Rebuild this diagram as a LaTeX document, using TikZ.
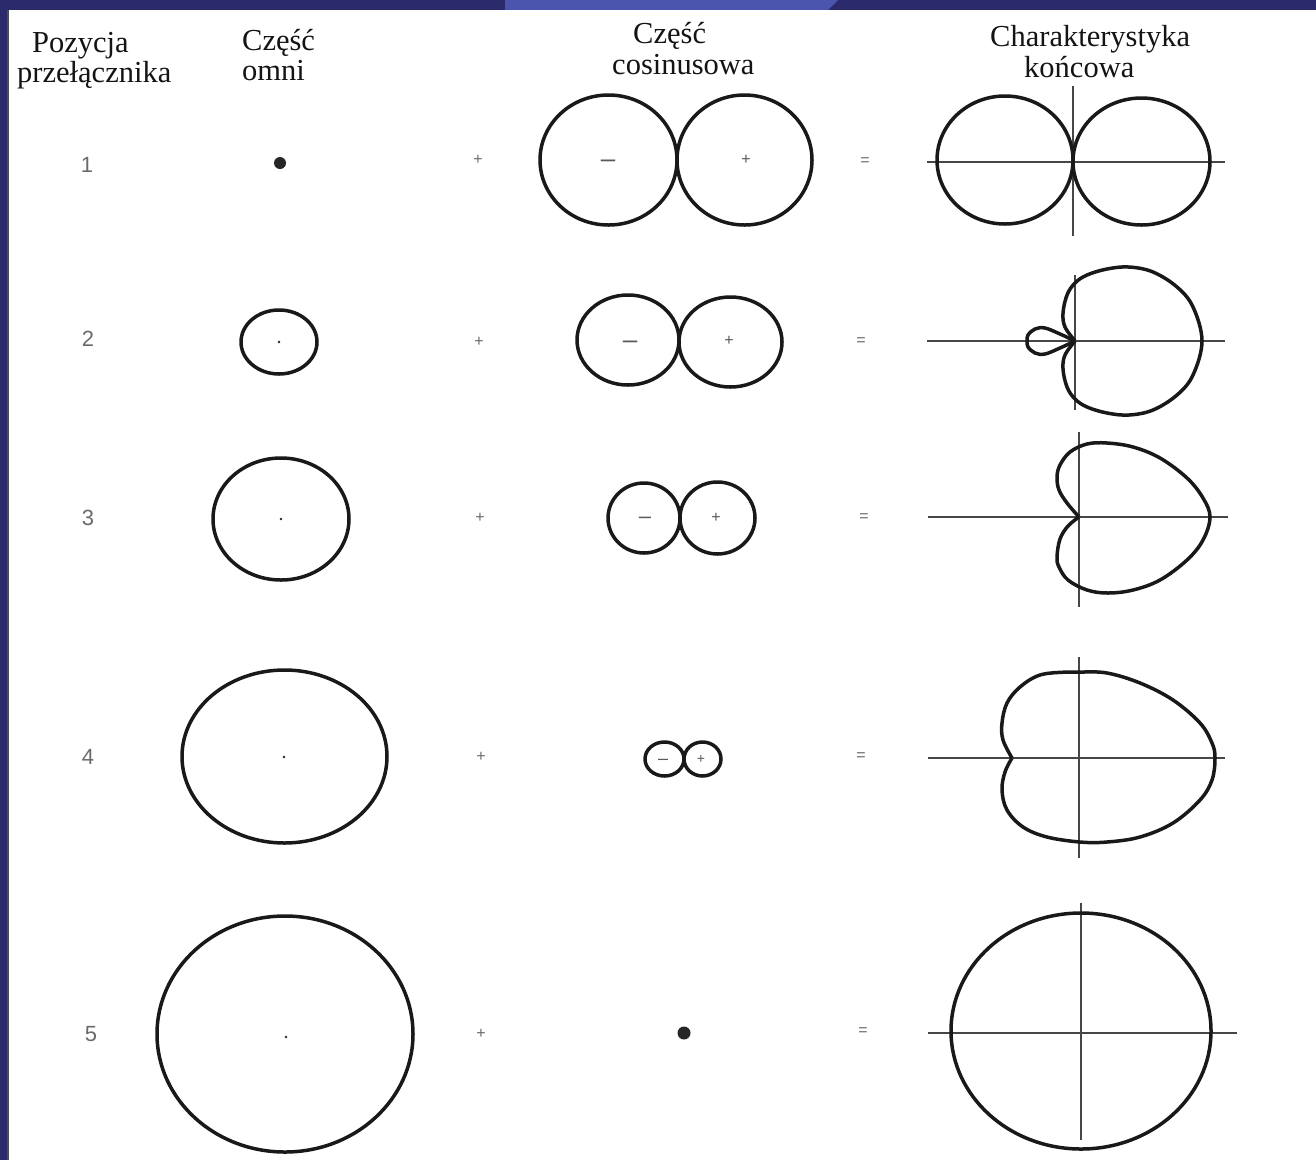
\documentclass[tikz,border=0pt]{standalone}
\usepackage{fontspec}
\setmainfont{Liberation Serif}
\newfontfamily\numfont{Liberation Sans}
\definecolor{navy}{HTML}{2B2A6B}
\definecolor{lightnavy}{HTML}{4B55AD}
\begin{document}
\begin{tikzpicture}[x=1pt,y=-1pt,
  lobe/.style={line width=3.5pt, black!90, line join=round},
  axisline/.style={line width=1.4pt, black!72},
  hdr/.style={font=\fontsize{30.5}{32}\selectfont, text=black!92, inner sep=0pt, anchor=base west},
  num/.style={font=\numfont\fontsize{22}{24}\selectfont, text=black!58, inner sep=0pt},
  op/.style={font=\numfont\fontsize{16}{18}\selectfont, text=black!58, inner sep=0pt},
  minus/.style={font=\numfont\fontsize{#1}{#1}\selectfont, text=black!65, inner sep=0pt, anchor=base},
  plussign/.style={font=\numfont\fontsize{#1}{#1}\selectfont, text=black!65, inner sep=0pt},
  dotc/.style={fill=black!85}
]
\useasboundingbox (0,0) rectangle (1316,1160);
% background
\fill[navy] (0,0) rectangle (1316,1160);
\fill[lightnavy] (505,0) -- (838,0) -- (828,10) -- (505,10) -- cycle;
\fill[white] (8,10) rectangle (1316,1160);
\draw[black!70, line width=1.2pt] (8,10) -- (8,1160);

% headers
\node[hdr] (h1a) at (32,52) {Pozycja};
\node[hdr] (h1b) at (17,82) {przełącznika};
\node[hdr] (h2a) at (242,50) {Część};
\node[hdr] (h2b) at (242,80) {omni};
\node[hdr] (h3a) at (633,43) {Część};
\node[hdr] (h3b) at (612,74) {cosinusowa};
\node[hdr] (h4a) at (990,46) {Charakterystyka};
\node[hdr] (h4b) at (1024,77) {końcowa};

% row numbers
\node[num] (n1) at (87,165) {1};
\node[num] (n2) at (88,339) {2};
\node[num] (n3) at (88,518) {3};
\node[num] (n4) at (88,757) {4};
\node[num] (n5) at (91,1034) {5};

% plus and equal signs
\node[op] (p1) at (478,160) {+};
\node[op] (p2) at (479,342) {+};
\node[op] (p3) at (480,518) {+};
\node[op] (p4) at (481,757) {+};
\node[op] (p5) at (481,1034) {+};
\node[op] (e1) at (865,162) {=};
\node[op] (e2) at (861,342) {=};
\node[op] (e3) at (864,518) {=};
\node[op] (e4) at (861,757) {=};
\node[op] (e5) at (863,1032) {=};

% omni part
\fill[dotc] (280,163) circle (6);
\draw[lobe] (279,342) ellipse [x radius=38, y radius=32];
\fill[dotc] (279,342) circle (1.4);
\draw[lobe] (281,519) ellipse [x radius=68, y radius=61];
\fill[dotc] (281,519) circle (1.4);
\draw[lobe] (284.5,756.5) ellipse [x radius=102.5, y radius=86.5];
\fill[dotc] (284,757) circle (1.4);
\draw[lobe] (285,1034) ellipse [x radius=128, y radius=118];
\fill[dotc] (286,1037) circle (1.4);

% cosine part
\draw[lobe] (608.5,160) ellipse [x radius=68.5, y radius=65];
\draw[lobe] (744.5,160) ellipse [x radius=67.5, y radius=65];
\node[minus=26] (m1) at (608,167) {–};
\node[plussign=16] (q1) at (746,160) {+};

\draw[lobe] (628,340) ellipse [x radius=51, y radius=45];
\draw[lobe] (730.5,342) ellipse [x radius=51.5, y radius=45];
\node[minus=26] (m2) at (630,348) {–};
\node[plussign=16] (q2) at (729,341) {+};

\draw[lobe] (644,518) ellipse [x radius=36, y radius=35];
\draw[lobe] (717.5,518) ellipse [x radius=37.5, y radius=36];
\node[minus=22] (m3) at (645,523) {–};
\node[plussign=16] (q3) at (716,518) {+};

\draw[lobe] (664.5,759) ellipse [x radius=19.5, y radius=17];
\draw[lobe] (702.5,759) ellipse [x radius=18.5, y radius=17];
\node[minus=18] (m4) at (663,764) {–};
\node[plussign=14] (q4) at (701,759) {+};

\fill[dotc] (684,1033) circle (6.5);

% final characteristics
% row 1
\draw[axisline] (927,162) -- (1225,162);
\draw[axisline] (1073,86) -- (1073,236);
\draw[lobe] (1005,160) ellipse [x radius=68, y radius=64];
\draw[lobe] (1141.5,161.5) ellipse [x radius=68.5, y radius=63.5];

% row 2
\draw[axisline] (927,341) -- (1225,341);
\draw[axisline] (1075,275) -- (1075,410);
\begin{scope}[shift={(1075,341)}]
\draw[lobe] plot[smooth, tension=0.6] coordinates {(0,0) (-10,-14) (-12,-28) (-8,-46) (0,-58) (12,-66) (32,-72) (54,-74) (78,-69) (102,-54) (118,-34) (127,0) (118,34) (102,54) (78,69) (54,74) (32,72) (12,66) (0,58) (-8,46) (-12,28) (-10,14) (0,0)};
\draw[lobe] plot[smooth, tension=0.6] coordinates {(0,0) (-15,-7) (-30,-13) (-40,-12) (-47,-6) (-48,0) (-47,6) (-40,12) (-30,13) (-15,7) (0,0)};
\end{scope}

% row 3
\draw[axisline] (928,517) -- (1228,517);
\draw[axisline] (1079,432) -- (1079,607);
\begin{scope}[shift={(1079,517)}]
\draw[lobe] plot[smooth, tension=0.6] coordinates {(0,0) (-12,-14) (-20,-27) (-22,-40) (-19,-52) (-9,-65) (8,-73) (28,-74) (54,-70) (81,-59) (108,-39) (124,-19) (131,0) (124,23) (108,43) (81,63) (54,73) (29,76) (8,73) (-11,63) (-20,50) (-22,40) (-19,22) (-11,9) (0,0)};
\end{scope}

% row 4
\draw[axisline] (928,758) -- (1225,758);
\draw[axisline] (1079,657) -- (1079,858);
\begin{scope}[shift={(1079,758)}]
\draw[lobe] plot[smooth, tension=0.6] coordinates {(-67,0) (-76,-18) (-77,-35) (-72,-55) (-59,-71) (-39,-83) (-12,-86) (1,-86) (28,-85) (61,-75) (94,-58) (121,-35) (133,-15) (136,0) (133,22) (121,42) (94,65) (61,79) (28,84) (1,84) (-32,79) (-56,69) (-72,52) (-77,32) (-74,14) (-67,0)};
\end{scope}

% row 5
\draw[axisline] (928,1033) -- (1237,1033);
\draw[axisline] (1081,903) -- (1081,1140);
\draw[lobe] (1081,1031) ellipse [x radius=130, y radius=118];
\end{tikzpicture}
\end{document}
